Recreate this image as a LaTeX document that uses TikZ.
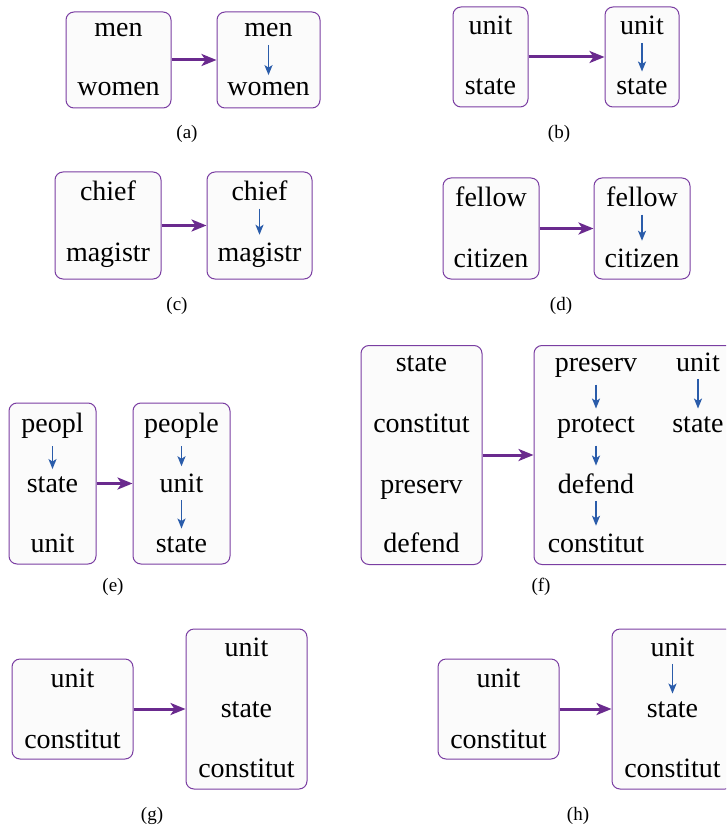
\documentclass[tikz,border=0pt]{standalone}
\usepackage{fontspec}
\setmainfont{Liberation Serif}
\usetikzlibrary{arrows.meta}
\definecolor{boxline}{HTML}{7A3EA2}
\definecolor{boxfill}{HTML}{FBFBFB}
\definecolor{mainarrow}{HTML}{6A2A8E}
\definecolor{subarrow}{HTML}{2A5CAA}
\tikzset{
  box/.style={draw=boxline, fill=boxfill, line width=1pt, rounded corners=8pt, inner sep=0pt},
  word/.style={font=\fontsize{28}{30}\selectfont, inner sep=7.5pt, anchor=base, text=black},
  captext/.style={font=\fontsize{19}{21}\selectfont, inner sep=0pt, anchor=base},
  mainarr/.style={draw=mainarrow, line width=3pt, -{Stealth[length=15pt,width=12pt,inset=4pt]}},
  subarr/.style={draw=subarrow, line width=1.6pt, -{Stealth[length=10pt,width=8pt,inset=2.5pt]}},
}
\begin{document}
\begin{tikzpicture}[x=1pt,y=-1pt]
\useasboundingbox (0,0) rectangle (726,829);
\clip (0,0) rectangle (726,829);
\fill[white] (0,0) rectangle (726,829);

% (a)
\node[box, minimum width=105pt, minimum height=96pt] (aL) at (118.5,60) {};
\node[box, minimum width=103pt, minimum height=96pt] (aR) at (268.5,60) {};
\node[word] (aL1) at (118.5,37) {men};
\node[word] (aL2) at (118.5,96) {women};
\node[word] (aR1) at (268.5,37) {men};
\node[word] (aR2) at (268.5,96) {women};
\draw[subarr] (aR1) -- (aR2);
\draw[mainarr] (aL) -- (aR);
\node[captext] (capa) at (187,139) {(a)};

% (b)
\node[box, minimum width=75pt, minimum height=100pt] (bL) at (490.5,57) {};
\node[box, minimum width=74pt, minimum height=100pt] (bR) at (642,57) {};
\node[word] (bL1) at (490.5,35) {unit};
\node[word] (bL2) at (490.5,95) {state};
\node[word] (bR1) at (642,35) {unit};
\node[word] (bR2) at (642,95) {state};
\draw[subarr] (bR1) -- (bR2);
\draw[mainarr] (bL) -- (bR);
\node[captext] (capb) at (559,139) {(b)};

% (c)
\node[box, minimum width=106pt, minimum height=107pt] (cL) at (108,225.5) {};
\node[box, minimum width=105pt, minimum height=107pt] (cR) at (259.5,225.5) {};
\node[word] (cL1) at (108,200.7) {chief};
\node[word] (cL2) at (108,261) {magistr};
\node[word] (cR1) at (259.5,200.7) {chief};
\node[word] (cR2) at (259.5,261) {magistr};
\draw[subarr] (cR1) -- (cR2);
\draw[mainarr] (cL) -- (cR);
\node[captext] (capc) at (177,310) {(c)};

% (d)
\node[box, minimum width=96pt, minimum height=101pt] (dL) at (491,228.5) {};
\node[box, minimum width=96pt, minimum height=101pt] (dR) at (642,228.5) {};
\node[word] (dL1) at (491,206.7) {fellow};
\node[word] (dL2) at (491,267) {citizen};
\node[word] (dR1) at (642,206.7) {fellow};
\node[word] (dR2) at (642,267) {citizen};
\draw[subarr] (dR1) -- (dR2);
\draw[mainarr] (dL) -- (dR);
\node[captext] (capd) at (561,310) {(d)};

% (e)
\node[box, minimum width=87pt, minimum height=161pt] (eL) at (52.5,483.5) {};
\node[box, minimum width=97pt, minimum height=161pt] (eR) at (181.5,483.5) {};
\node[word] (eL1) at (52.5,432.5) {peopl};
\node[word] (eL2) at (52.5,492.5) {state};
\node[word] (eL3) at (52.5,552) {unit};
\node[word] (eR1) at (181.5,432.5) {people};
\node[word] (eR2) at (181.5,492.5) {unit};
\node[word] (eR3) at (181.5,552) {state};
\draw[subarr] (eL1) -- (eL2);
\draw[subarr] (eR1) -- (eR2);
\draw[subarr] (eR2) -- (eR3);
\draw[mainarr] (eL) -- (eR);
\node[captext] (cape) at (113,591) {(e)};

% (f)
\node[box, minimum width=121pt, minimum height=219pt] (fL) at (421.5,455) {};
\node[box, minimum width=206pt, minimum height=219pt] (fR) at (637,455) {};
\node[word] (fL1) at (421.5,371) {state};
\node[word] (fL2) at (421.5,432) {constitut};
\node[word] (fL3) at (421.5,493) {preserv};
\node[word] (fL4) at (421.5,552) {defend};
\node[word] (fR1) at (596,371) {preserv};
\node[word] (fR2) at (596,432) {protect};
\node[word] (fR3) at (596,493) {defend};
\node[word] (fR4) at (596,552) {constitut};
\node[word] (fR5) at (698,371) {unit};
\node[word] (fR6) at (698,432) {state};
\draw[subarr] (fR1) -- (fR2);
\draw[subarr] (fR2) -- (fR3);
\draw[subarr] (fR3) -- (fR4);
\draw[subarr] (fR5) -- (fR6);
\draw[mainarr] (fL) -- (fR);
\node[captext] (capf) at (541,591) {(f)};

% (g)
\node[box, minimum width=121pt, minimum height=100pt] (gL) at (72.5,709) {};
\node[box, minimum width=121pt, minimum height=160pt] (gR) at (246.5,709) {};
\node[word] (gL1) at (72.5,687) {unit};
\node[word] (gL2) at (72.5,748) {constitut};
\node[word] (gR1) at (246.5,656) {unit};
\node[word] (gR2) at (246.5,717) {state};
\node[word] (gR3) at (246.5,777) {constitut};
\draw[mainarr] (gL) -- (gR);
\node[captext] (capg) at (152,820) {(g)};

% (h)
\node[box, minimum width=121pt, minimum height=100pt] (hL) at (498.5,709) {};
\node[box, minimum width=121pt, minimum height=160pt] (hR) at (672.5,709) {};
\node[word] (hL1) at (498.5,687) {unit};
\node[word] (hL2) at (498.5,748) {constitut};
\node[word] (hR1) at (672.5,656) {unit};
\node[word] (hR2) at (672.5,717) {state};
\node[word] (hR3) at (672.5,777) {constitut};
\draw[subarr] (hR1) -- (hR2);
\draw[mainarr] (hL) -- (hR);
\node[captext] (caph) at (578,820) {(h)};
\end{tikzpicture}
\end{document}
